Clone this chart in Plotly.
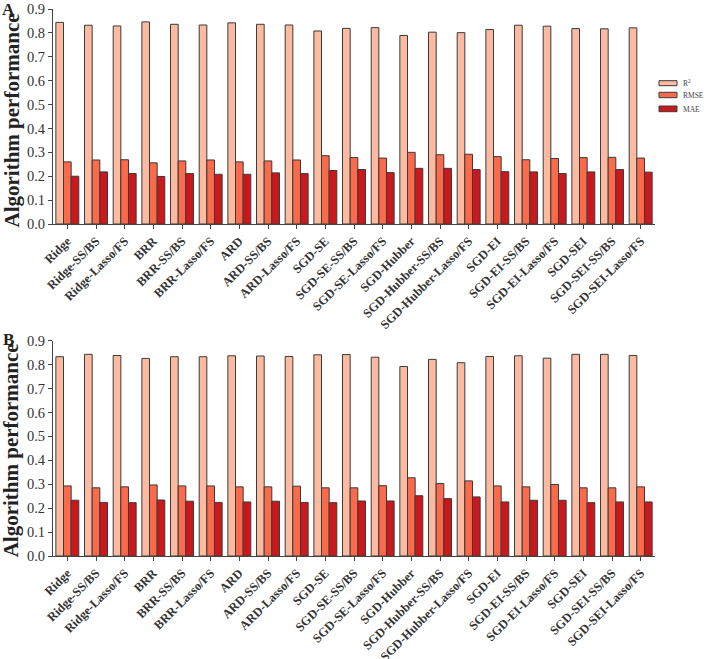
import plotly.graph_objects as go

categories = ["Ridge", "Ridge-SS/BS", "Ridge-Lasso/FS", "BRR", "BRR-SS/BS", "BRR-Lasso/FS",
              "ARD", "ARD-SS/BS", "ARD-Lasso/FS", "SGD-SE", "SGD-SE-SS/BS", "SGD-SE-Lasso/FS",
              "SGD-Hubber", "SGD-Hubber-SS/BS", "SGD-Hubber-Lasso/FS", "SGD-EI", "SGD-EI-SS/BS",
              "SGD-EI-Lasso/FS", "SGD-SEI", "SGD-SEI-SS/BS", "SGD-SEI-Lasso/FS"]

# Panel A
r2_A = [0.844, 0.832, 0.829, 0.846, 0.836, 0.833, 0.842, 0.836, 0.833, 0.808, 0.819,
        0.822, 0.789, 0.803, 0.801, 0.814, 0.832, 0.828, 0.818, 0.817, 0.821]
rmse_A = [0.260, 0.268, 0.269, 0.256, 0.264, 0.268, 0.260, 0.264, 0.268, 0.286, 0.278,
          0.276, 0.300, 0.290, 0.292, 0.282, 0.269, 0.274, 0.278, 0.279, 0.276]
mae_A = [0.200, 0.218, 0.211, 0.199, 0.211, 0.208, 0.208, 0.214, 0.211, 0.224, 0.228,
         0.215, 0.233, 0.233, 0.228, 0.219, 0.218, 0.211, 0.218, 0.228, 0.217]

# Panel B
r2_B = [0.833, 0.843, 0.838, 0.826, 0.833, 0.833, 0.837, 0.836, 0.834, 0.841, 0.842,
        0.831, 0.792, 0.822, 0.808, 0.834, 0.837, 0.827, 0.843, 0.843, 0.838]
rmse_B = [0.293, 0.285, 0.289, 0.297, 0.293, 0.293, 0.289, 0.289, 0.292, 0.285, 0.285,
          0.294, 0.327, 0.303, 0.314, 0.293, 0.289, 0.299, 0.285, 0.285, 0.289]
mae_B = [0.233, 0.224, 0.223, 0.234, 0.229, 0.224, 0.226, 0.229, 0.224, 0.223, 0.230,
         0.230, 0.252, 0.240, 0.247, 0.226, 0.233, 0.233, 0.223, 0.226, 0.226]

y_ticks = [0.0, 0.1, 0.2, 0.3, 0.4, 0.5, 0.6, 0.7, 0.8, 0.9]
series_names = ["R<sup>2</sup>", "RMSE", "MAE"]
colors = ["#FCBBA1", "#FB6A4A", "#CB181D"]

W, H = 709, 659
# plot area in window pixels: x 53..655, y 9..556
ML, MR, MT, MB = 53, 709 - 655, 9, 659 - 556
PW, PH = W - ML - MR, H - MT - MB

def px_x(px):
    return (px - ML) / PW

def px_y(py):
    return (H - MB - py) / PH

SERIF = "Liberation Serif, Times New Roman, serif"

fig = go.Figure()
panels = [("x", "y", r2_A, rmse_A, mae_A), ("x2", "y2", r2_B, rmse_B, mae_B)]
for xa, ya, r2, rmse, mae in panels:
    for name, vals, col in zip(series_names, [r2, rmse, mae], colors):
        fig.add_trace(go.Bar(x=categories, y=vals, name=name, xaxis=xa, yaxis=ya,
                             marker=dict(color=col, line=dict(color="#3a3a3a", width=1)),
                             showlegend=False))

axis_common_x = dict(type="category", showline=True, linecolor="#444", linewidth=1,
                     ticks="outside", ticklen=4, tickcolor="#444", tickangle=-45,
                     tickfont=dict(family=SERIF, size=12.5, color="#333", weight="bold"),
                     showgrid=False, zeroline=False, automargin=False)
axis_common_y = dict(range=[0, 0.9], tickvals=y_ticks, tickformat=".1f", showline=True,
                     linecolor="#444", linewidth=1, ticks="outside", ticklen=4, tickcolor="#444",
                     tickfont=dict(family=SERIF, size=14.5, color="#333"),
                     showgrid=False, zeroline=False, automargin=False)

fig.update_layout(
    template="none",
    width=W, height=H,
    margin=dict(l=ML, r=MR, t=MT, b=MB, autoexpand=False),
    plot_bgcolor="white", paper_bgcolor="white",
    barmode="group", bargap=0.2, bargroupgap=0,
    xaxis=dict(axis_common_x, anchor="y", domain=[0, 1]),
    yaxis=dict(axis_common_y, anchor="x", domain=[px_y(224), 1]),
    xaxis2=dict(axis_common_x, anchor="y2", domain=[0, 1]),
    yaxis2=dict(axis_common_y, anchor="x2", domain=[0, px_y(340.7)]),
    showlegend=False,
)

annotations = []
# panel letters
annotations.append(dict(text="<b>A</b>", x=px_x(9), y=px_y(9), xref="paper", yref="paper",
                        xanchor="center", yanchor="middle",
                        showarrow=False, font=dict(family=SERIF, size=17, color="#222")))
annotations.append(dict(text="<b>B</b>", x=px_x(8), y=px_y(339.5), xref="paper", yref="paper",
                        xanchor="center", yanchor="middle",
                        showarrow=False, font=dict(family=SERIF, size=17, color="#222")))
# y titles
for cy in [(9 + 224) / 2 + 4, (340.7 + 556) / 2 + 2]:
    annotations.append(dict(text="<b>Algorithm performance</b>", x=px_x(11), y=px_y(cy),
                            xref="paper", yref="paper", showarrow=False, textangle=-90,
                            xanchor="center", yanchor="middle",
                            font=dict(family=SERIF, size=21, color="#222")))

# custom legend
shapes = []
leg_rows = [(80.7, 85.7, 83), (92.3, 97.7, 95), (106, 111.7, 109)]
for (t, b, cy), name, col in zip(leg_rows, series_names, colors):
    shapes.append(dict(type="rect", xref="paper", yref="paper",
                       x0=px_x(659), x1=px_x(677), y0=px_y(b), y1=px_y(t),
                       fillcolor=col, line=dict(color="#3a3a3a", width=1)))
    annotations.append(dict(text=name, x=px_x(681), y=px_y(cy), xref="paper", yref="paper",
                            xanchor="left", yanchor="middle", showarrow=False,
                            font=dict(family=SERIF, size=7.5, color="#444")))

fig.update_layout(annotations=annotations, shapes=shapes)
fig.write_html("out.html", config={"displayModeBar": False},
               post_script="document.body.style.margin='0';document.body.style.padding='0';")
